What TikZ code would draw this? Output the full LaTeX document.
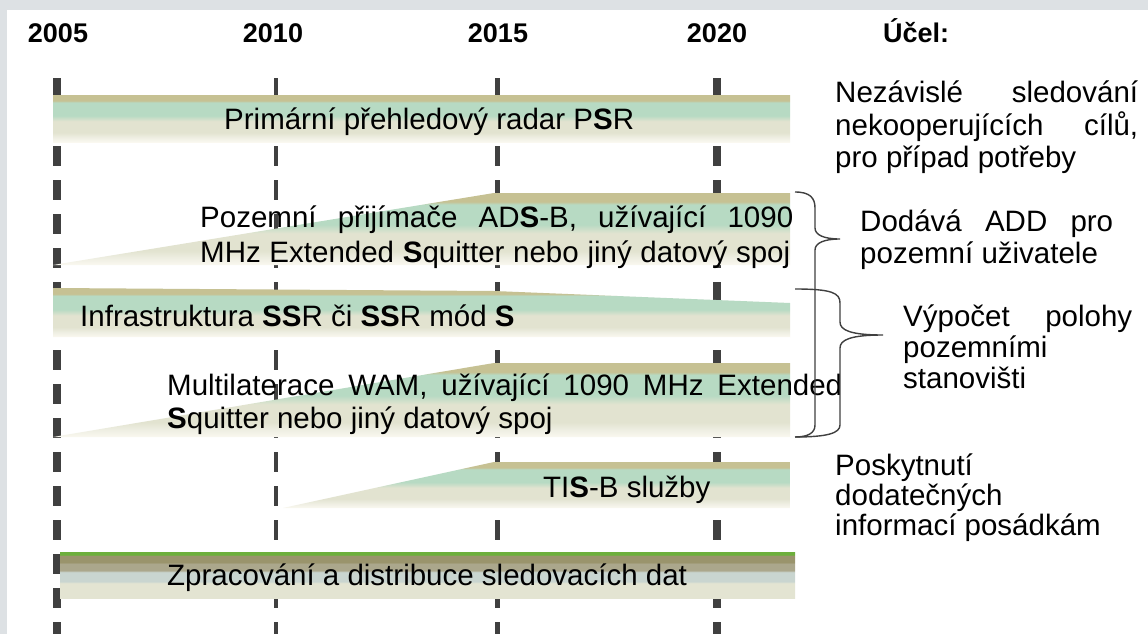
\documentclass[tikz,border=0pt]{standalone}
\usepackage{fontspec}
\setmainfont{Liberation Sans}
\definecolor{frameGray}{HTML}{DDE1E4}
\definecolor{tickGray}{HTML}{404040}
\definecolor{barOlive}{HTML}{C6C193}
\definecolor{barMint}{HTML}{B7DAC3}
\definecolor{barBeige}{HTML}{E2E3D0}
\definecolor{barLight}{HTML}{EEEEE2}
\definecolor{barCream}{HTML}{FAF8F0}
\definecolor{zGreen}{HTML}{6DAF3C}
\definecolor{zOlive}{HTML}{9A946C}
\definecolor{zTaupe}{HTML}{ABA78C}
\definecolor{zBlue}{HTML}{C9D5D0}
\definecolor{zBeige}{HTML}{E3E4D2}
\pgfdeclareverticalshading{barshade}{100bp}{color(0bp)=(barCream); color(25bp)=(barCream); color(30bp)=(barLight); color(35bp)=(barBeige); color(47bp)=(barBeige); color(53bp)=(barMint); color(67bp)=(barMint); color(69bp)=(barOlive); color(100bp)=(barOlive)}
\pgfdeclareverticalshading{zshade}{100bp}{color(0bp)=(zBeige); color(25bp)=(zBeige); color(41bp)=(zBeige); color(43bp)=(zBlue); color(53bp)=(zBlue); color(55bp)=(zTaupe); color(62bp)=(zTaupe); color(64bp)=(zOlive); color(71bp)=(zOlive); color(72bp)=(zGreen); color(100bp)=(zGreen)}
\newcommand\txtfont{\fontsize{29.5}{34}\selectfont}
\newcommand\yrfont{\fontsize{27}{30}\selectfont\bfseries}
\begin{document}
\begin{tikzpicture}[x=1pt,y=-1pt,
  lbl/.style={anchor=base west,inner sep=0pt,font=\txtfont},
  year/.style={anchor=base,inner sep=0pt,font=\yrfont},
  yearline/.style={draw=tickGray,dash pattern=on 20pt off 14pt},
  brace/.style={draw=tickGray,line width=1.4pt}]
\useasboundingbox (0,0) rectangle (1148,634);
\fill[frameGray] (0,0) rectangle (1148,634);
\fill[white] (7,10) rectangle (1148,634);
% year labels
\node[year] (y2005) at (58,43) {2005};
\node[year] (y2010) at (273,43) {2010};
\node[year] (y2015) at (498,43) {2015};
\node[year] (y2020) at (717,43) {2020};
\node[anchor=base west,inner sep=0pt,font=\yrfont] (ucel) at (883,43) {Účel:};
% dashed year lines
\coordinate (t2005) at (57,78);  \coordinate (b2005) at (57,634);
\coordinate (t2010) at (276,78); \coordinate (b2010) at (276,634);
\coordinate (t2015) at (497,78); \coordinate (b2015) at (497,634);
\coordinate (t2020) at (717,78); \coordinate (b2020) at (717,634);
\draw[yearline,line width=8pt] (t2005) -- (b2005);
\draw[yearline,line width=4.5pt] (t2010) -- (b2010);
\draw[yearline,line width=5pt] (t2015) -- (b2015);
\draw[yearline,line width=8pt] (t2020) -- (b2020);
% bars
\shade[shading=barshade] (53,95) rectangle (790,142);
\shade[shading=barshade] (53,265) -- (494,193) -- (790,193) -- (790,265) -- cycle;
\shade[shading=barshade] (53,288) -- (494,291) -- (790,303) -- (790,337) -- (53,337) -- cycle;
\shade[shading=barshade] (53,437) -- (494,363) -- (790,363) -- (790,437) -- cycle;
\shade[shading=barshade] (283,508) -- (494,462) -- (790,462) -- (790,508) -- cycle;
\shade[shading=zshade] (60,552) rectangle (795,598);
% bar texts
\node[lbl] (psr) at (224,129) {Primární přehledový radar P\textbf{S}R};
\node[lbl] (ads1) at (200,227) {\makebox[593pt][s]{Pozemní přijímače AD\textbf{S}-B, užívající 1090}};
\node[lbl] (ads2) at (200,262) {\makebox[590pt][s]{MHz Extended \textbf{S}quitter nebo jiný datový spoj}};
\node[lbl] (ssr) at (80,326) {Infrastruktura \textbf{SS}R či \textbf{SS}R mód \textbf{S}};
\node[lbl] (wam1) at (167,395) {\makebox[675pt][s]{Multilaterace WAM, užívající 1090 MHz Extended}};
\node[lbl] (wam2) at (167,428) {\textbf{S}quitter nebo jiný datový spoj};
\node[lbl] (tis) at (543,497) {TI\textbf{S}-B služby};
\node[lbl] (zpr) at (167,585) {Zpracování a distribuce sledovacích dat};
% right texts
\node[lbl] (p1a) at (835,102) {\makebox[303pt][s]{Nezávislé sledování}};
\node[lbl] (p1b) at (835,135) {\makebox[303pt][s]{nekooperujících cílů,}};
\node[lbl] (p1c) at (835,167) {pro případ potřeby};
\node[lbl] (p2a) at (860,231) {\makebox[253pt][s]{Dodává ADD pro}};
\node[lbl] (p2b) at (860,263) {pozemní uživatele};
\node[lbl] (p3a) at (903,326) {\makebox[229pt][s]{Výpočet polohy}};
\node[lbl] (p3b) at (903,357) {pozemními};
\node[lbl] (p3c) at (903,388) {stanovišti};
\node[lbl] (p4a) at (835,475) {Poskytnutí};
\node[lbl] (p4b) at (835,505) {dodatečných};
\node[lbl] (p4c) at (835,535) {informací posádkám};
% braces
\coordinate (br1top) at (795,192);
\coordinate (br1tip) at (840,239);
\coordinate (br1bot) at (795,437);
\coordinate (br2top) at (795,289);
\coordinate (br2tip) at (883,335);
\coordinate (br2bot) at (795,437);
\draw[brace] (br1top) .. controls (810,192) and (815,198) .. (815,208) -- (815,228)
  .. controls (815,235) and (824,239) .. (br1tip)
  .. controls (824,239) and (815,243) .. (815,250) -- (815,425)
  .. controls (815,433) and (808,437) .. (br1bot);
\draw[brace] (br2top) .. controls (832,289) and (840,293) .. (840,303) -- (840,322)
  .. controls (840,330) and (850,335) .. (br2tip)
  .. controls (850,335) and (840,340) .. (840,348) -- (840,425)
  .. controls (840,433) and (828,437) .. (br2bot);
\end{tikzpicture}
\end{document}
